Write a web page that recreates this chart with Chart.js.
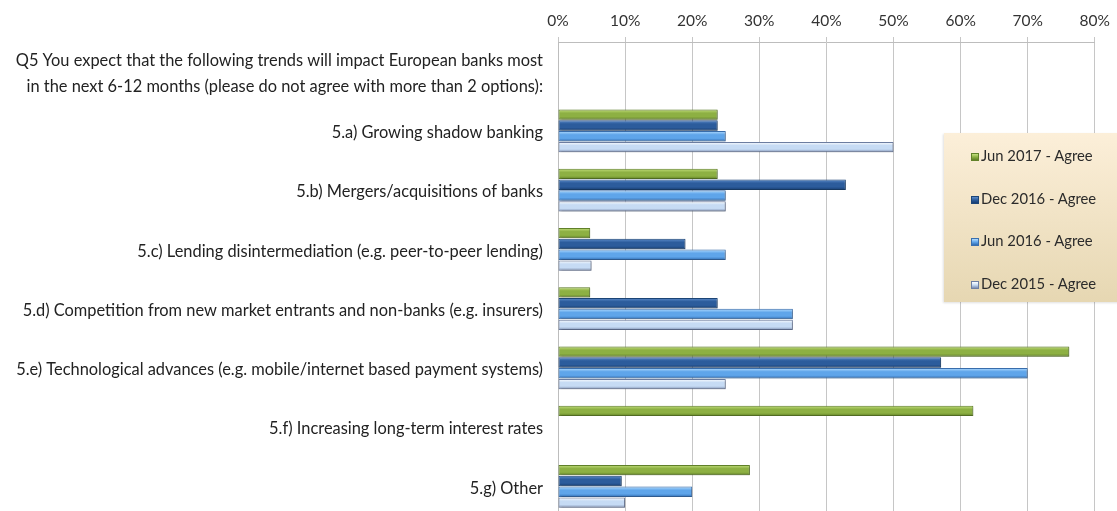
<!DOCTYPE html>
<html>
<head>
<meta charset="utf-8">
<script src="https://cdn.jsdelivr.net/npm/chart.js@4.4.1/dist/chart.umd.min.js"></script>
<style>
    html, body { margin: 0; padding: 0; background: #fff; overflow: hidden; }
    #wrap { position: relative; width: 1117px; height: 516px; }
    #trendsChart { display: block; }
    #legend {
        position: absolute; left: 944px; top: 133px; width: 190px; height: 169px;
        background: linear-gradient(#fcefd9, #e6d7b2);
        box-shadow: -1px 1px 2px rgba(0,0,0,0.12);
        font-family: Lato, sans-serif; font-size: 14.8px; color: #2b2b2b;
    }
    #legend .item { position: absolute; left: 27px; height: 20px; line-height: 20px; white-space: nowrap; }
    #legend .sw { display: inline-block; width: 8px; height: 8px; margin-right: 2px; vertical-align: 0px; border: 1px solid; box-sizing: border-box; }
</style>
</head>
<body>
<div id="wrap">
    <canvas id="trendsChart" width="1117" height="516"></canvas>
    <div id="legend"></div>
</div>
<script>
const categories = [
    ['Q5 You expect that the following trends will impact European banks most',
     'in the next 6-12 months (please do not agree with more than 2 options):'],
    '5.a) Growing shadow banking',
    '5.b) Mergers/acquisitions of banks',
    '5.c) Lending disintermediation (e.g. peer-to-peer lending)',
    '5.d) Competition from new market entrants and non-banks (e.g. insurers)',
    '5.e) Technological advances (e.g. mobile/internet based payment systems)',
    '5.f) Increasing long-term interest rates',
    '5.g) Other'
];
const seriesNames = ['Jun 2017 - Agree', 'Dec 2016 - Agree', 'Jun 2016 - Agree', 'Dec 2015 - Agree'];
const jun2017 = [null, 23.8, 23.8, 4.8, 4.8, 76.2, 61.9, 28.6];
const dec2016 = [null, 23.8, 42.9, 19.0, 23.8, 57.1, null, 9.5];
const jun2016 = [null, 25, 25, 25, 35, 70, null, 20];
const dec2015 = [null, 50, 25, 5, 35, 25, null, 10];
const xTicks = [0, 10, 20, 30, 40, 50, 60, 70, 80];

// top / middle / bottom shades for the bevelled bars, plus outline
const shades = [
    { top: '#c4e07e', mid: '#8db043', low: '#5f7f25', line: '#62822a' },
    { top: '#5d8ccb', mid: '#2c5c9c', low: '#173e72', line: '#1d4678' },
    { top: '#b2dcff', mid: '#5fa5ea', low: '#2f6cb2', line: '#3a6fae' },
    { top: '#ffffff', mid: '#c6dbf4', low: '#7c8db0', line: '#6e7fa3' }
];

const FONT = 'Lato, sans-serif';

// paint each bar with a vertical gradient so it looks raised
const bevelPlugin = {
    id: 'bevel',
    beforeDatasetsDraw(chart) {
        const ctx = chart.ctx;
        chart.data.datasets.forEach((ds, i) => {
            const s = shades[i];
            chart.getDatasetMeta(i).data.forEach(el => {
                if (el.x == null || isNaN(el.y)) return;
                const h = el.height;
                const g = ctx.createLinearGradient(0, el.y - h / 2, 0, el.y + h / 2);
                g.addColorStop(0, s.top);
                g.addColorStop(0.35, s.mid);
                g.addColorStop(0.7, s.mid);
                g.addColorStop(1, s.low);
                el.options = Object.assign({}, el.options, { backgroundColor: g });
            });
        });
        ctx.save();
        ctx.shadowColor = 'rgba(0,0,0,0.28)';
        ctx.shadowBlur = 2;
        ctx.shadowOffsetX = 1;
        ctx.shadowOffsetY = 1;
    },
    afterDatasetsDraw(chart) {
        chart.ctx.restore();
    }
};

const seriesData = [jun2017, dec2016, jun2016, dec2015];

new Chart(document.getElementById('trendsChart'), {
    type: 'bar',
    data: {
        labels: categories,
        datasets: seriesNames.map((name, i) => ({
            label: name,
            data: seriesData[i],
            backgroundColor: shades[i].mid,
            borderColor: shades[i].line,
            borderWidth: 1,
            borderSkipped: false,
            categoryPercentage: 0.73,
            barPercentage: 0.96
        }))
    },
    options: {
        indexAxis: 'y',
        responsive: false,
        animation: false,
        layout: { padding: { left: 0, right: 17, top: 0, bottom: 0 } },
        plugins: { legend: { display: false }, tooltip: { enabled: false } },
        scales: {
            x: {
                position: 'top',
                min: 0,
                max: 80,
                afterBuildTicks: scale => { scale.ticks = xTicks.map(v => ({ value: v })); },
                afterFit: scale => { scale.height = 42; },
                grid: { color: '#c6c6c6', lineWidth: 1, tickLength: 5 },
                border: { color: '#bdbdbd' },
                ticks: {
                    padding: 7,
                    color: '#333',
                    font: { family: FONT, size: 15.5 },
                    callback: v => v + '%'
                }
            },
            y: {
                // fixed label column; the two-line question label must not shrink the plot
                afterFit: scale => {
                    scale.width = 558;
                    scale.paddingTop = 0;
                    scale.paddingBottom = 0;
                },
                grid: { display: false, drawTicks: false },
                border: { color: '#bdbdbd' },
                ticks: {
                    autoSkip: false,
                    padding: 15,
                    labelOffset: 2,
                    color: '#222',
                    font: { family: FONT, size: 16.4, lineHeight: 1.6 }
                }
            }
        }
    },
    plugins: [bevelPlugin]
});

// legend box, stacked in dataset order
const legend = document.getElementById('legend');
const itemTops = [12, 55, 97, 140];
seriesNames.forEach((name, i) => {
    const item = document.createElement('div');
    item.className = 'item';
    item.style.top = itemTops[i] + 'px';
    const sw = document.createElement('span');
    sw.className = 'sw';
    sw.style.background = 'linear-gradient(' + shades[i].top + ', ' + shades[i].mid + ' 50%, ' + shades[i].low + ')';
    sw.style.borderColor = shades[i].line;
    item.appendChild(sw);
    item.appendChild(document.createTextNode(name));
    legend.appendChild(item);
});
</script>
</body>
</html>
